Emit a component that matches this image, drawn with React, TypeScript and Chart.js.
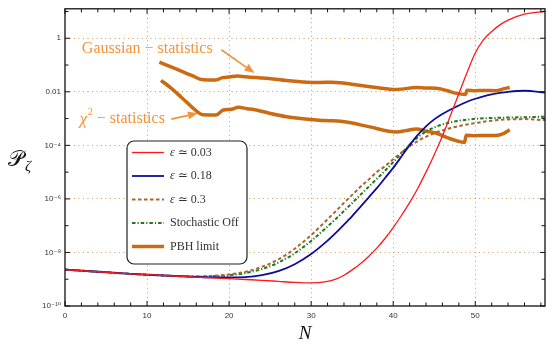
import React, { useEffect, useRef } from "react";
import { Chart, registerables } from "chart.js";
Chart.register(...registerables);

// ---------- data (values stored as log10 of P_zeta) ----------
const nSmooth = [0, 4, 8, 12, 16, 18, 20, 22, 24, 26, 28, 30, 32, 33, 34, 35, 36, 37, 38, 39, 40, 41, 42, 43, 44, 45, 46, 47, 48, 49, 50, 51, 52, 53, 54, 56, 58.5];
const eps003 = [-8.64, -8.72, -8.8, -8.86, -8.92, -8.95, -8.98, -9.01, -9.04, -9.08, -9.12, -9.14, -9.08, -9.0, -8.85, -8.65, -8.42, -8.15, -7.84, -7.48, -7.07, -6.62, -6.14, -5.6, -5.0, -4.35, -3.65, -2.87, -2.07, -1.28, -0.55, -0.06, 0.25, 0.5, 0.68, 0.9, 1.0];
const eps018 = [-8.64, -8.72, -8.8, -8.86, -8.91, -8.93, -8.93, -8.92, -8.85, -8.7, -8.44, -8.06, -7.56, -7.27, -6.96, -6.64, -6.3, -5.95, -5.6, -5.22, -4.84, -4.42, -3.99, -3.61, -3.29, -3.03, -2.83, -2.66, -2.51, -2.37, -2.26, -2.17, -2.1, -2.04, -2.0, -1.96, -2.03];
const eps03 = [-8.64, -8.72, -8.8, -8.86, -8.9, -8.88, -8.82, -8.72, -8.54, -8.26, -7.86, -7.35, -6.76, -6.46, -6.15, -5.85, -5.55, -5.28, -5.0, -4.78, -4.52, -4.27, -4.04, -3.84, -3.68, -3.55, -3.44, -3.35, -3.28, -3.22, -3.17, -3.12, -3.08, -3.05, -3.03, -3.02, -3.06];
const stochOff = [-8.64, -8.72, -8.8, -8.86, -8.9, -8.89, -8.85, -8.77, -8.62, -8.38, -8.03, -7.57, -7.03, -6.75, -6.45, -6.15, -5.85, -5.55, -5.25, -4.95, -4.63, -4.3, -3.98, -3.7, -3.48, -3.33, -3.22, -3.14, -3.08, -3.04, -3.01, -2.99, -2.98, -2.97, -2.96, -2.95, -2.93];

const gaussN = [11.5, 13, 14.4, 15.5, 16.8, 18.4, 19.2, 20, 21, 22, 23.3, 24.9, 27, 29, 31, 32.5, 34.3, 37, 40, 41, 42.8, 44, 45.2, 46.5, 47.7, 48.8, 49.0, 50, 51, 52.5, 53.5, 54.2];
const gaussV = [-0.89, -1.08, -1.26, -1.4, -1.55, -1.56, -1.47, -1.45, -1.41, -1.44, -1.47, -1.5, -1.58, -1.63, -1.65, -1.64, -1.69, -1.8, -1.91, -1.9, -1.84, -1.86, -1.87, -1.95, -2.06, -2.1, -1.94, -1.96, -1.95, -1.96, -1.88, -1.84];
const chiN = [11.7, 13, 14.3, 15.5, 16.8, 18.4, 19.3, 20.3, 21.1, 22.2, 23.3, 24.9, 27, 29, 31, 32.5, 34.3, 37, 40.4, 41.5, 42.8, 44, 45.2, 46.5, 47.3, 48.7, 48.9, 50, 51, 52.5, 53.5, 54.2];
const chiV = [-1.57, -1.88, -2.24, -2.58, -2.86, -2.87, -2.68, -2.65, -2.58, -2.63, -2.68, -2.8, -2.93, -3.01, -3.06, -3.08, -3.13, -3.3, -3.5, -3.45, -3.39, -3.47, -3.54, -3.7, -3.79, -3.89, -3.62, -3.64, -3.63, -3.63, -3.55, -3.42];

const seriesLabels = ["ε ≃ 0.03", "ε ≃ 0.18", "ε ≃ 0.3", "Stochastic Off", "PBH limit"];

const xTickValues = [0, 10, 20, 30, 40, 50];
const xTickMarks = [0, 2, 4, 6, 8, 10, 12, 14, 16, 18, 20, 22, 24, 26, 28, 30, 32, 34, 36, 38, 40, 42, 44, 46, 48, 50, 52, 54, 56, 58];
const yExponents = [-10, -9, -8, -7, -6, -5, -4, -3, -2, -1, 0, 1];
const yTickLabels = ["10⁻¹⁰", "", "10⁻⁸", "", "10⁻⁶", "", "10⁻⁴", "", "0.01", "", "1", ""];

// annotation anchors in data coordinates [N, log10 P]
const gaussText = [2.05, -0.39];
const gaussArrow = [[19.05, -0.43], [23.1, -1.3]];
const chiText = [1.8, -3.01];
const chiArrow = [[12.95, -3.02], [16.2, -2.8]];

const X_MAX = 58.5;
const Y_MIN_EXP = -10;
const Y_MAX_EXP = 1.1;

const SERIF = "'Liberation Serif', 'DejaVu Serif', 'Times New Roman', serif";
const SANS = "'Liberation Sans', 'DejaVu Sans', Arial, sans-serif";
const GRID = "rgba(214,140,70,0.9)";
const ANNOT = "#f4923a";
const PBH = "#cc6a12";

const toPts = (xs: number[], ls: number[]) => xs.map((n, i) => ({ x: n, y: Math.pow(10, ls[i]) }));

const framePlugin = {
  id: "frameTicks",
  afterDraw(chart: any) {
    const { ctx, chartArea: a, scales } = chart;
    const x = scales.x, y = scales.y;
    ctx.save();
    ctx.strokeStyle = "#111";
    ctx.lineWidth = 1.3;
    ctx.strokeRect(a.left, a.top, a.right - a.left, a.bottom - a.top);
    ctx.lineWidth = 1;
    ctx.beginPath();
    for (const v of xTickMarks) {
      const px = x.getPixelForValue(v);
      const len = v % 10 === 0 ? 5 : 3.5;
      ctx.moveTo(px, a.bottom); ctx.lineTo(px, a.bottom - len);
      ctx.moveTo(px, a.top); ctx.lineTo(px, a.top + len);
    }
    for (const e of yExponents) {
      const py = y.getPixelForValue(Math.pow(10, e));
      if (py < a.top) continue;
      const len = e % 2 === 0 ? 5 : 3.5;
      ctx.moveTo(a.left, py); ctx.lineTo(a.left + len, py);
      ctx.moveTo(a.right, py); ctx.lineTo(a.right - len, py);
    }
    ctx.stroke();

    ctx.fillStyle = "#111";
    ctx.textBaseline = "alphabetic";
    ctx.textAlign = "center";
    ctx.font = `italic 19px ${SERIF}`;
    ctx.fillText("N", (a.left + a.right) / 2, 339);
    ctx.textAlign = "left";
    ctx.font = `22px 'DejaVu Serif', 'DejaVu Sans', ${SERIF}`;
    ctx.fillText("𝒫", 8, 166);
    const pw = ctx.measureText("𝒫").width;
    ctx.font = `italic 15px ${SERIF}`;
    ctx.fillText("ζ", 8 + pw + 1, 171);
    ctx.restore();
  },
};

const annotPlugin = {
  id: "annotations",
  afterDraw(chart: any) {
    const { ctx, scales } = chart;
    const px = (p: number[]) => [scales.x.getPixelForValue(p[0]), scales.y.getPixelForValue(Math.pow(10, p[1]))];
    ctx.save();
    ctx.fillStyle = ANNOT;
    ctx.strokeStyle = ANNOT;
    ctx.textBaseline = "middle";
    ctx.textAlign = "left";
    const [gx, gy] = px(gaussText);
    ctx.font = `16px ${SERIF}`;
    ctx.fillText("Gaussian − statistics", gx, gy);
    const [cx, cy] = px(chiText);
    ctx.font = `italic 17px ${SERIF}`;
    ctx.fillText("χ", cx, cy + 1);
    let w = ctx.measureText("χ").width;
    ctx.font = `10px ${SERIF}`;
    ctx.fillText("2", cx + w + 0.5, cy - 6);
    w += ctx.measureText("2").width + 0.5;
    ctx.font = `16px ${SERIF}`;
    ctx.fillText(" − statistics", cx + w, cy);
    const arrow = (pts: number[][]) => {
      const [x0, y0] = px(pts[0]);
      const [x1, y1] = px(pts[1]);
      const ang = Math.atan2(y1 - y0, x1 - x0);
      const hl = 10, hw = 4;
      const bx = x1 - hl * Math.cos(ang), by = y1 - hl * Math.sin(ang);
      ctx.lineWidth = 1.6;
      ctx.beginPath(); ctx.moveTo(x0, y0); ctx.lineTo(bx, by); ctx.stroke();
      ctx.beginPath();
      ctx.moveTo(x1, y1);
      ctx.lineTo(bx + hw * Math.sin(ang), by - hw * Math.cos(ang));
      ctx.lineTo(bx - hw * Math.sin(ang), by + hw * Math.cos(ang));
      ctx.closePath(); ctx.fill();
    };
    arrow(gaussArrow);
    arrow(chiArrow);
    ctx.restore();
  },
};

const legendPlugin = {
  id: "boxLegend",
  afterDraw(chart: any) {
    const { ctx } = chart;
    const left = 127, top = 141, w = 120, h = 123, r = 7;
    ctx.save();
    ctx.beginPath();
    ctx.moveTo(left + r, top);
    ctx.arcTo(left + w, top, left + w, top + h, r);
    ctx.arcTo(left + w, top + h, left, top + h, r);
    ctx.arcTo(left, top + h, left, top, r);
    ctx.arcTo(left, top, left + w, top, r);
    ctx.closePath();
    ctx.fillStyle = "#fff";
    ctx.fill();
    ctx.strokeStyle = "#222";
    ctx.lineWidth = 1.2;
    ctx.stroke();
    const items = chart.data.datasets.filter((d: any) => d.label);
    items.forEach((d: any, i: number) => {
      const yy = top + 11.5 + i * 23.5;
      ctx.strokeStyle = d.borderColor;
      ctx.lineWidth = d.borderWidth;
      ctx.setLineDash(d.borderDash || []);
      ctx.beginPath(); ctx.moveTo(132, yy); ctx.lineTo(164, yy); ctx.stroke();
      ctx.setLineDash([]);
      ctx.fillStyle = "#333";
      ctx.textBaseline = "middle";
      ctx.textAlign = "left";
      let tx = 170;
      let label = d.label as string;
      if (label.startsWith("ε")) {
        ctx.font = `italic 12px ${SERIF}`;
        ctx.fillText("ε", tx, yy);
        tx += ctx.measureText("ε").width;
        label = label.slice(1);
      }
      ctx.font = `12px ${SERIF}`;
      ctx.fillText(label, tx, yy);
    });
    ctx.restore();
  },
};

export default function App() {
  const ref = useRef<HTMLCanvasElement | null>(null);
  useEffect(() => {
    if (!ref.current) return;
    const chart = new Chart(ref.current, {
      type: "line",
      data: {
        datasets: [
          { label: seriesLabels[0], data: toPts(nSmooth, eps003), borderColor: "#ff1a1a", borderWidth: 1.3, cubicInterpolationMode: "monotone" },
          { label: seriesLabels[1], data: toPts(nSmooth, eps018), borderColor: "#0d0d9c", borderWidth: 1.8, cubicInterpolationMode: "monotone" },
          { label: seriesLabels[2], data: toPts(nSmooth, eps03), borderColor: "#a8672e", borderWidth: 2, borderDash: [3.5, 2.5], cubicInterpolationMode: "monotone" },
          { label: seriesLabels[3], data: toPts(nSmooth, stochOff), borderColor: "#1f7a1f", borderWidth: 2, borderDash: [3.5, 2, 1.2, 2], cubicInterpolationMode: "monotone" },
          { label: seriesLabels[4], data: toPts(gaussN, gaussV), borderColor: PBH, borderWidth: 3.5, cubicInterpolationMode: "monotone" },
          { label: "", data: toPts(chiN, chiV), borderColor: PBH, borderWidth: 3.5, cubicInterpolationMode: "monotone" },
        ] as any,
      },
      options: {
        animation: false,
        responsive: false,
        events: [],
        layout: { padding: { top: 8, right: 2, left: 0, bottom: 0 } },
        elements: { point: { radius: 0 }, line: { fill: false } },
        plugins: { legend: { display: false }, tooltip: { enabled: false } },
        scales: {
          x: {
            type: "linear",
            min: 0,
            max: X_MAX,
            afterBuildTicks: (s: any) => { s.ticks = xTickValues.map((v) => ({ value: v })); },
            afterFit: (s: any) => { s.height = 38; },
            ticks: { autoSkip: false, maxRotation: 0, font: { size: 8, family: SANS }, color: "#333", padding: 5, callback: (v: any) => String(v) },
            grid: { drawTicks: false, lineWidth: 1, color: (c: any) => (c.tick && c.tick.value === 0 ? "rgba(0,0,0,0)" : GRID) },
            border: { display: false, dash: [1, 3.5] },
          },
          y: {
            type: "logarithmic",
            min: Math.pow(10, Y_MIN_EXP),
            max: Math.pow(10, Y_MAX_EXP),
            afterBuildTicks: (s: any) => { s.ticks = yExponents.map((e) => ({ value: Math.pow(10, e) })); },
            afterFit: (s: any) => { s.width = 65; },
            ticks: { autoSkip: false, font: { size: 8, family: SANS }, color: "#333", padding: 4, callback: (_v: any, i: number) => yTickLabels[i] },
            grid: {
              drawTicks: false,
              lineWidth: 1,
              color: (c: any) => {
                if (!c.tick) return "rgba(0,0,0,0)";
                const e = Math.round(Math.log10(c.tick.value));
                return e % 2 === 0 && e > -10 && e <= 0 ? GRID : "rgba(0,0,0,0)";
              },
            },
            border: { display: false, dash: [1, 3.5] },
          },
        },
      } as any,
      plugins: [legendPlugin, framePlugin, annotPlugin],
    });
    return () => chart.destroy();
  }, []);
  return (
    <div style={{ position: "absolute", left: 0, top: 0, width: 547, height: 344, background: "#fff" }}>
      <canvas ref={ref} width={547} height={344} style={{ display: "block" }} />
    </div>
  );
}
